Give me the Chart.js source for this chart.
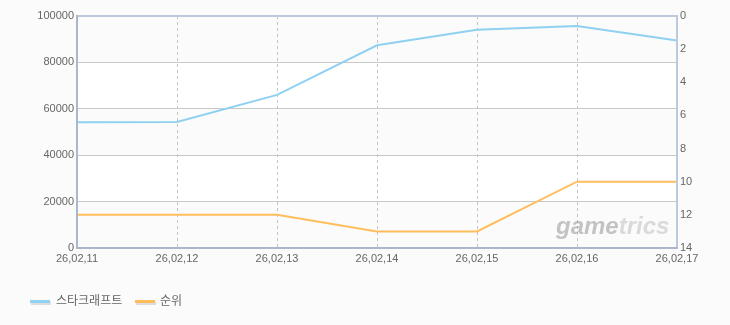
<!DOCTYPE html>
<html><head><meta charset="utf-8">
<script src="https://cdn.jsdelivr.net/npm/chart.js@4"></script>
<style>html,body{margin:0;padding:0;background:#fbfbfb;}#wrap{width:730px;height:325px;}</style>
</head><body><div id="wrap"><canvas id="c" width="730" height="325"></canvas></div>
<script>
const categories = ['26,02,11','26,02,12','26,02,13','26,02,14','26,02,15','26,02,16','26,02,17'];
const seriesNames = ['스타크래프트','순위'];
const playerValues = [54200, 54300, 66000, 87400, 94100, 95700, 89400];
const rankValues = [12, 12, 12, 13, 13, 10, 10];
const leftTicks = [0, 20000, 40000, 60000, 80000, 100000];
const rightTicks = [0, 2, 4, 6, 8, 10, 12, 14];
const colors = ['#8fd1f0', '#ffbe5c'];

const FONT = {family: '"Liberation Sans", Arial, sans-serif', size: 11};

const decor = {
  id: 'decor',
  beforeDraw(chart) {
    const {ctx, chartArea: a, scales} = chart;
    const y = scales.y;
    ctx.save();
    ctx.fillStyle = '#fbfbfb';
    ctx.fillRect(a.left, a.top, a.right - a.left, a.bottom - a.top);
    ctx.fillStyle = '#ffffff';
    for (let i = 0; i < leftTicks.length - 1; i++) {
      if (i % 2 === 1) {
        const y0 = y.getPixelForValue(leftTicks[i + 1]);
        const y1 = y.getPixelForValue(leftTicks[i]);
        ctx.fillRect(a.left, y0, a.right - a.left, y1 - y0);
      }
    }
    ctx.restore();
  },
  afterDatasetsDraw(chart) {
    const {ctx, chartArea: a} = chart;
    ctx.save();
    // watermark
    ctx.font = 'italic bold 24px "Liberation Sans", Arial, sans-serif';
    ctx.textAlign = 'left';
    ctx.textBaseline = 'alphabetic';
    const wx = a.right - 121, wy = a.bottom - 14;
    ctx.fillStyle = 'rgba(150,150,150,0.55)';
    ctx.fillText('game', wx, wy);
    const w1 = ctx.measureText('game').width;
    ctx.fillStyle = 'rgba(170,170,170,0.4)';
    ctx.fillText('trics', wx + w1, wy);
    ctx.restore();
    ctx.save();
    // frame
    ctx.lineWidth = 2;
    ctx.strokeStyle = '#bccbdb';
    ctx.beginPath();
    ctx.moveTo(a.left, a.top);
    ctx.lineTo(a.right, a.top);
    ctx.lineTo(a.right, a.bottom);
    ctx.stroke();
    ctx.strokeStyle = '#a9b9cb';
    ctx.beginPath();
    ctx.moveTo(a.left, a.top - 1);
    ctx.lineTo(a.left, a.bottom);
    ctx.lineTo(a.right + 1, a.bottom);
    ctx.stroke();
    ctx.restore();
    // legend
    ctx.save();
    ctx.font = '12px "Noto Sans CJK KR", "Liberation Sans", sans-serif';
    ctx.textBaseline = 'middle';
    ctx.textAlign = 'left';
    const items = [{x: 30, tx: 56}, {x: 135, tx: 160}];
    chart.data.datasets.forEach((ds, i) => {
      const it = items[i];
      ctx.fillStyle = '#dddddd';
      ctx.fillRect(it.x + 1, 302, 20, 3);
      ctx.fillStyle = ds.borderColor;
      ctx.fillRect(it.x, 300, 20, 3);
      ctx.fillStyle = '#666666';
      ctx.fillText(ds.label, it.tx, 300);
    });
    ctx.restore();
  }
};

new Chart(document.getElementById('c'), {
  type: 'line',
  data: {
    labels: categories,
    datasets: [
      {label: seriesNames[0], data: playerValues, borderColor: colors[0], backgroundColor: colors[0], borderWidth: 2, pointRadius: 0, yAxisID: 'y', tension: 0},
      {label: seriesNames[1], data: rankValues, borderColor: colors[1], backgroundColor: colors[1], borderWidth: 2, pointRadius: 0, yAxisID: 'y2', tension: 0}
    ]
  },
  options: {
    responsive: false,
    animation: false,
    devicePixelRatio: 1,
    layout: {padding: {top: 16, left: 0, right: 0, bottom: 0}},
    plugins: {legend: {display: false}, tooltip: {enabled: false}},
    scales: {
      x: {
        type: 'category',
        offset: false,
        grid: {color: '#c4c4c4', lineWidth: 1, drawTicks: false},
        border: {display: false, dash: [3, 3]},
        ticks: {font: FONT, color: '#666666', padding: 4, maxRotation: 0, autoSkip: false},
        afterFit(s) { s.height = 77; }
      },
      y: {
        position: 'left',
        min: 0, max: 100000,
        afterBuildTicks(s) { s.ticks = leftTicks.map(v => ({value: v})); },
        grid: {color: '#c8c8c8', lineWidth: 1, drawTicks: false},
        border: {display: false},
        ticks: {font: FONT, color: '#666666', padding: 3, callback: v => String(v)},
        afterFit(s) { s.width = 77; }
      },
      y2: {
        position: 'right',
        reverse: true,
        min: 0, max: 14,
        afterBuildTicks(s) { s.ticks = rightTicks.map(v => ({value: v})); },
        grid: {display: false, drawTicks: false},
        border: {display: false},
        ticks: {font: FONT, color: '#666666', padding: 3, callback: v => String(v)},
        afterFit(s) { s.width = 53; }
      }
    }
  },
  plugins: [decor]
});
</script></body></html>
